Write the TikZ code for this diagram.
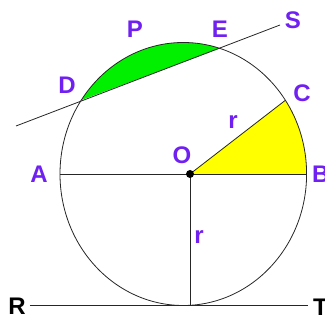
\documentclass[tikz,border=0pt]{standalone}
\usepackage{fontspec}
\setmainfont{Liberation Sans}
\usetikzlibrary{calc}
\begin{document}
\begin{tikzpicture}[x=1pt,y=1pt,
  lbl/.style={font=\bfseries\fontsize{24}{24}\selectfont,text=labpurple,inner sep=0pt},
  blk/.style={font=\bfseries\fontsize{24}{24}\selectfont,text=black,inner sep=0pt},
  ln/.style={line width=0.8pt,draw=black!85}]
\definecolor{labpurple}{RGB}{112,32,240}
\definecolor{segGreen}{RGB}{0,240,0}
\definecolor{secYellow}{RGB}{255,255,0}
\useasboundingbox (0,0) rectangle (325,-320);
% points
\coordinate (Oc) at (183.3,-174);
\coordinate (O) at (190,-174);
\coordinate (A) at (60,-174);
\coordinate (B) at (306.6,-174);
\coordinate (C) at ($(Oc)+(34.1:123.3pt and 131.5pt)$);
\coordinate (D) at ($(Oc)+(145.8:123.3pt and 131.5pt)$);
\coordinate (E) at ($(Oc)+(72.7:123.3pt and 131.5pt)$);
\coordinate (Bot) at (190,-305);
\coordinate (L1) at (16,-126);
\coordinate (S1) at (280,-25);
\coordinate (R1) at (30,-305);
\coordinate (T1) at (308,-305);
% fills
\fill[secYellow] (O) -- (C) arc[start angle=34.1,end angle=0,x radius=123.3pt,y radius=131.5pt] -- cycle;
\fill[segGreen] (D) arc[start angle=145.8,end angle=72.7,x radius=123.3pt,y radius=131.5pt] -- cycle;
% lines
\draw[ln] (Oc) ellipse[x radius=123.3pt,y radius=131.5pt];
\draw[ln] (A) -- (B);
\draw[ln] (O) -- (C);
\draw[ln] (O) -- (Bot);
\draw[ln] (L1) -- (S1);
\draw[ln] (R1) -- (T1);
\fill[black] (O) circle[radius=4pt];
% labels
\node[lbl] (lP) at (135,-29) {P};
\node[lbl] (lE) at (220,-29) {E};
\node[lbl] (lS) at (293,-20) {S};
\node[lbl] (lD) at (67,-85) {D};
\node[lbl] (lC) at (302,-93) {C};
\node[lbl] (lr1) at (233,-122) {r};
\node[lbl] (lO) at (182,-155) {O};
\node[lbl] (lA) at (39,-174) {A};
\node[lbl,anchor=west] (lB) at (312,-174) {B};
\node[lbl] (lr2) at (199,-237) {r};
\node[blk] (lR) at (17,-306) {R};
\node[blk,anchor=west] (lT) at (313,-307) {T};
\end{tikzpicture}
\end{document}
